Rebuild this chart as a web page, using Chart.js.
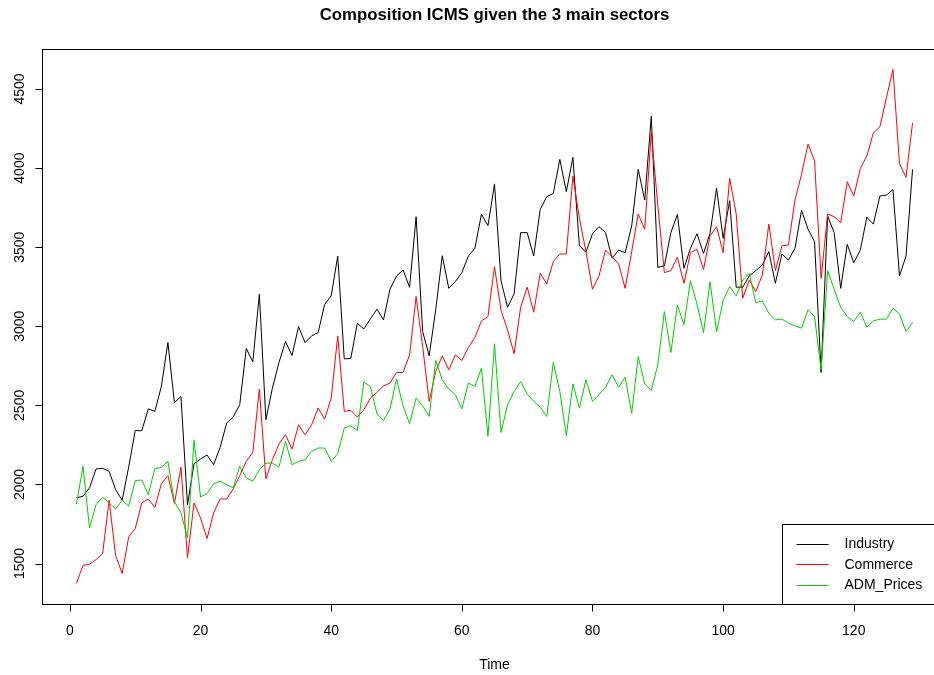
<!DOCTYPE html>
<html>
<head>
<meta charset="utf-8">
<title>Composition ICMS given the 3 main sectors</title>
<script src="https://cdn.jsdelivr.net/npm/chart.js@4.4.1/dist/chart.umd.min.js"></script>
<style>
  html, body { margin: 0; padding: 0; background: #ffffff; overflow: hidden; }
  #wrap { width: 934px; height: 675px; overflow: hidden; }
  canvas { display: block; }
</style>
</head>
<body>
<div id="wrap"><canvas id="icms" width="955" height="675"></canvas></div>
<script>
// Monthly ICMS collection for the three main sectors
const industry = [
  1915, 1925, 1978, 2098, 2102, 2083, 1967, 1900, 2110, 2341,
  2339, 2478, 2462, 2619, 2897, 2518, 2556, 1872, 2131, 2161,
  2186, 2125, 2234, 2388, 2426, 2504, 2860, 2775, 3203, 2409,
  2609, 2770, 2904, 2815, 2998, 2897, 2939, 2960, 3139, 3192,
  3444, 2794, 2796, 3019, 2983, 3047, 3108, 3040, 3234, 3318,
  3356, 3246, 3693, 2967, 2813, 3104, 3446, 3240, 3282, 3339,
  3444, 3493, 3708, 3636, 3900, 3287, 3120, 3205, 3592, 3592,
  3444, 3739, 3819, 3840, 4055, 3851, 4067, 3510, 3468, 3585,
  3630, 3592, 3430, 3482, 3465, 3634, 3992, 3798, 4328, 3373,
  3381, 3592, 3707, 3366, 3493, 3585, 3461, 3588, 3872, 3556,
  3794, 3247, 3247, 3318, 3352, 3388, 3472, 3272, 3457, 3419,
  3493, 3733, 3613, 3535, 2708, 3697, 3592, 3240, 3518, 3402,
  3482, 3689, 3646, 3823, 3829, 3865, 3318, 3444, 3992
];

const commerce = [
  1374, 1489, 1494, 1525, 1561, 1900, 1550, 1437, 1668, 1721,
  1883, 1908, 1855, 2003, 2056, 1880, 2110, 1536, 1883, 1788,
  1658, 1820, 1908, 1908, 1972, 2056, 2146, 2203, 2603, 2035,
  2157, 2255, 2314, 2224, 2377, 2314, 2377, 2483, 2413, 2546,
  2939, 2462, 2468, 2426, 2472, 2546, 2582, 2622, 2641, 2708,
  2708, 2819, 3188, 2872, 2525, 2714, 2813, 2725, 2819, 2784,
  2866, 2929, 3034, 3061, 3377, 3099, 2977, 2826, 3120, 3247,
  3089, 3335, 3268, 3409, 3457, 3457, 3949, 3682, 3472, 3234,
  3318, 3482, 3440, 3394, 3240, 3472, 3710, 3613, 4223, 3766,
  3339, 3352, 3436, 3272, 3465, 3487, 3360, 3571, 3630, 3465,
  3935, 3710, 3177, 3293, 3219, 3324, 3646, 3352, 3508, 3514,
  3798, 3960, 4152, 4046, 3303, 3710, 3693, 3655, 3914, 3823,
  3998, 4076, 4223, 4261, 4446, 4623, 4029, 3941, 4286
];

const admPrices = [
  1877, 2114, 1725, 1872, 1919, 1883, 1845, 1900, 1862, 2024,
  2028, 1936, 2100, 2108, 2146, 1890, 1820, 1662, 2279, 1921,
  1942, 2005, 2020, 1999, 1978, 2114, 2041, 2020, 2093, 2135,
  2135, 2110, 2272, 2125, 2146, 2157, 2209, 2230, 2230, 2146,
  2194, 2356, 2371, 2341, 2647, 2619, 2447, 2405, 2477, 2666,
  2497, 2384, 2546, 2497, 2430, 2784, 2662, 2603, 2567, 2477,
  2641, 2619, 2735, 2304, 2889, 2329, 2504, 2588, 2651, 2573,
  2525, 2489, 2430, 2771, 2588, 2308, 2636, 2483, 2662, 2525,
  2567, 2615, 2693, 2615, 2678, 2450, 2809, 2636, 2594, 2756,
  3093, 2834, 3135, 3009, 3289, 3140, 2960, 3282, 2966, 3162,
  3251, 3192, 3293, 3335, 3150, 3160, 3082, 3040, 3046, 3019,
  3003, 2988, 3104, 3061, 2725, 3352, 3234, 3120, 3061, 3030,
  3089, 2994, 3034, 3045, 3045, 3114, 3078, 2967, 3024
];

// Time index 1..n
const time = industry.map((_, i) => i + 1);

const seriesNames = ['Industry', 'Commerce', 'ADM_Prices'];
const seriesColors = ['#000000', '#ff0000', '#00cd00'];

const xTicks = [0, 20, 40, 60, 80, 100, 120];
const yTicks = [1500, 2000, 2500, 3000, 3500, 4000, 4500];

const titleText = 'Composition ICMS given the 3 main sectors';
const xTitle = 'Time';

// Axis ranges padded by 4% on each side
const allValues = industry.concat(commerce, admPrices);
const yLo = Math.min(...allValues), yHi = Math.max(...allValues);
const yPad = (yHi - yLo) * 0.04;
const xLo = time[0], xHi = time[time.length - 1];
const xPad = (xHi - xLo) * 0.04;

const FONT = '"Liberation Sans", Arial, Helvetica, sans-serif';
const BASE = 14;

function toPoints(values) {
  return values.map((v, i) => ({ x: time[i], y: v }));
}

const frame = {
  id: 'frame',
  afterDraw(chart) {
    const ctx = chart.ctx;
    const a = chart.chartArea;
    const xs = chart.scales.x, ys = chart.scales.y;
    const L = Math.round(a.left) - 0.5, R = Math.round(a.right) + 0.5;
    const T = Math.round(a.top) + 0.5, B = Math.round(a.bottom) + 0.5;
    ctx.save();
    ctx.strokeStyle = '#000';
    ctx.lineWidth = 1;
    ctx.strokeRect(L, T, R - L, B - T);

    // tick marks
    ctx.beginPath();
    xTicks.forEach(v => {
      const px = Math.round(xs.getPixelForValue(v)) + 0.5;
      ctx.moveTo(px, B); ctx.lineTo(px, B + 7);
    });
    yTicks.forEach(v => {
      const py = Math.round(ys.getPixelForValue(v)) + 0.5;
      ctx.moveTo(L, py); ctx.lineTo(L - 7, py);
    });
    ctx.stroke();

    // tick labels
    ctx.fillStyle = '#000';
    ctx.font = BASE + 'px ' + FONT;
    ctx.textAlign = 'center';
    ctx.textBaseline = 'middle';
    xTicks.forEach(v => {
      ctx.fillText(String(v), xs.getPixelForValue(v), 631);
    });
    yTicks.forEach(v => {
      ctx.save();
      ctx.translate(20, ys.getPixelForValue(v));
      ctx.rotate(-Math.PI / 2);
      ctx.fillText(String(v), 0, 0);
      ctx.restore();
    });

    // axis title and main title
    const cx = (a.left + a.right) / 2;
    ctx.fillText(xTitle, cx, 665);
    ctx.font = 'bold ' + (BASE * 1.2) + 'px ' + FONT;
    ctx.fillText(titleText, cx, 15);

    // legend, bottom right of the plot region
    const boxW = 164, boxH = 80;
    const bx = Math.round(a.right - boxW) + 0.5, by = Math.round(a.bottom - boxH) + 0.5;
    ctx.fillStyle = '#fff';
    ctx.fillRect(bx, by, boxW, boxH);
    ctx.strokeRect(bx, by, boxW, boxH);
    ctx.font = BASE + 'px ' + FONT;
    ctx.textAlign = 'left';
    ctx.fillStyle = '#000';
    chart.data.datasets.forEach((ds, i) => {
      const ly = by + 19.5 + i * 20.4;
      ctx.strokeStyle = ds.borderColor;
      ctx.beginPath();
      ctx.moveTo(bx + 14, Math.round(ly) + 0.5);
      ctx.lineTo(bx + 46, Math.round(ly) + 0.5);
      ctx.stroke();
      ctx.fillText(ds.label, bx + 62, ly + 0.5);
    });
    ctx.restore();
  }
};

new Chart(document.getElementById('icms'), {
  type: 'line',
  data: {
    datasets: [
      { label: seriesNames[0], data: toPoints(industry), borderColor: seriesColors[0], order: 3 },
      { label: seriesNames[1], data: toPoints(commerce), borderColor: seriesColors[1], order: 2 },
      { label: seriesNames[2], data: toPoints(admPrices), borderColor: seriesColors[2], order: 1 }
    ]
  },
  options: {
    responsive: false,
    animation: false,
    devicePixelRatio: 1,
    layout: { padding: { left: 43, top: 49, right: 9, bottom: 71 } },
    elements: {
      line: { borderWidth: 1, tension: 0, fill: false, borderJoinStyle: 'round' },
      point: { radius: 0, hoverRadius: 0 }
    },
    scales: {
      x: { type: 'linear', display: false, min: xLo - xPad, max: xHi + xPad },
      y: { type: 'linear', display: false, min: yLo - yPad, max: yHi + yPad }
    },
    plugins: {
      legend: { display: false },
      title: { display: false },
      tooltip: { enabled: false }
    }
  },
  plugins: [frame]
});
</script>
</body>
</html>
